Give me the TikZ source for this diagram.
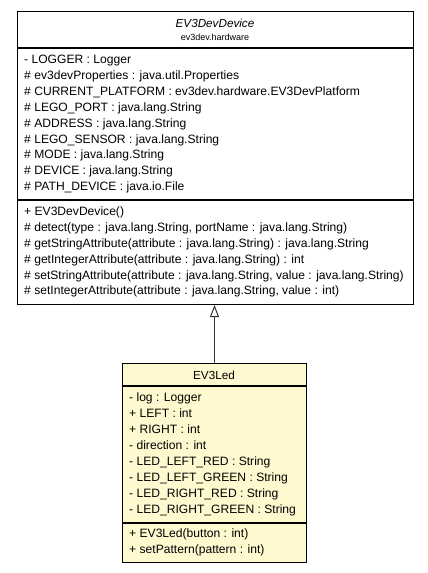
\documentclass[tikz,border=0pt]{standalone}
\usepackage{fontspec}
\setmainfont{Liberation Sans}
\usetikzlibrary{arrows.meta}
\definecolor{ledfill}{HTML}{FFF9D0}
\definecolor{umlline}{HTML}{333333}
\begin{document}
\begin{tikzpicture}[x=1pt,y=-1pt,
  classbox/.style={draw=black,line width=1pt,anchor=north west,inner sep=0pt},
  sep/.style={draw=black,line width=1.1pt},
  mem/.style={anchor=west,inner sep=0pt,font=\fontsize{12.1}{13}\selectfont,text height=8pt,text depth=2pt},
  ttl/.style={inner sep=0pt,font=\fontsize{11.7}{13}\selectfont},
  pkg/.style={inner sep=0pt,font=\fontsize{9}{10}\selectfont},
  inherit/.style={draw=umlline,line width=1pt,-{Triangle[open,length=12pt,width=9pt,line width=1pt]}}
]
\useasboundingbox (0,0) rectangle (428,573);
% top class
\node[classbox,minimum width=396pt,minimum height=293pt] (base) at (17,11) {};
\draw[sep] (17,48) coordinate (bh1) -- (413,48) coordinate (bh2);
\draw[sep] (17,200) coordinate (ba1) -- (413,200) coordinate (ba2);
\node[ttl,font=\fontsize{11.7}{13}\selectfont\itshape] (bt) at (215,23) {EV3DevDevice};
\node[pkg] (bp) at (215,37) {ev3dev.hardware};
\node[mem] (b1) at (24,60) {- LOGGER : Logger};
\node[mem] (b2) at (24,76) {\# ev3devProperties : java.util.Properties};
\node[mem] (b3) at (24,92) {\# CURRENT\_PLATFORM : ev3dev.hardware.EV3DevPlatform};
\node[mem] (b4) at (24,108) {\# LEGO\_PORT : java.lang.String};
\node[mem] (b5) at (24,124) {\# ADDRESS : java.lang.String};
\node[mem] (b6) at (24,140) {\# LEGO\_SENSOR : java.lang.String};
\node[mem] (b7) at (24,155) {\# MODE : java.lang.String};
\node[mem] (b8) at (24,171) {\# DEVICE : java.lang.String};
\node[mem] (b9) at (24,187) {\# PATH\_DEVICE : java.io.File};
\node[mem] (m1) at (24,212) {+ EV3DevDevice()};
\node[mem] (m2) at (24,228) {\# detect(type : java.lang.String, portName : java.lang.String)};
\node[mem] (m3) at (24,244) {\# getStringAttribute(attribute : java.lang.String) : java.lang.String};
\node[mem] (m4) at (24,260) {\# getIntegerAttribute(attribute : java.lang.String) : int};
\node[mem] (m5) at (24,276) {\# setStringAttribute(attribute : java.lang.String, value : java.lang.String)};
\node[mem] (m6) at (24,291) {\# setIntegerAttribute(attribute : java.lang.String, value : int)};
% bottom class
\node[classbox,fill=ledfill,minimum width=184pt,minimum height=199pt] (led) at (122,363) {};
\draw[sep] (122,386) coordinate (lh1) -- (306,386) coordinate (lh2);
\draw[sep] (122,523) coordinate (la1) -- (306,523) coordinate (la2);
\node[ttl] (lt) at (214,375) {EV3Led};
\node[mem] (l1) at (129,398) {- log : Logger};
\node[mem] (l2) at (129,414) {+ LEFT : int};
\node[mem] (l3) at (129,430) {+ RIGHT : int};
\node[mem] (l4) at (129,446) {- direction : int};
\node[mem] (l5) at (129,462) {- LED\_LEFT\_RED : String};
\node[mem] (l6) at (129,478) {- LED\_LEFT\_GREEN : String};
\node[mem] (l7) at (129,494) {- LED\_RIGHT\_RED : String};
\node[mem] (l8) at (129,510) {- LED\_RIGHT\_GREEN : String};
\node[mem] (k1) at (129,534) {+ EV3Led(button : int)};
\node[mem] (k2) at (129,550) {+ setPattern(pattern : int)};
% inheritance
\draw[inherit] (led.north) -- (led.north |- base.south);
\end{tikzpicture}
\end{document}
